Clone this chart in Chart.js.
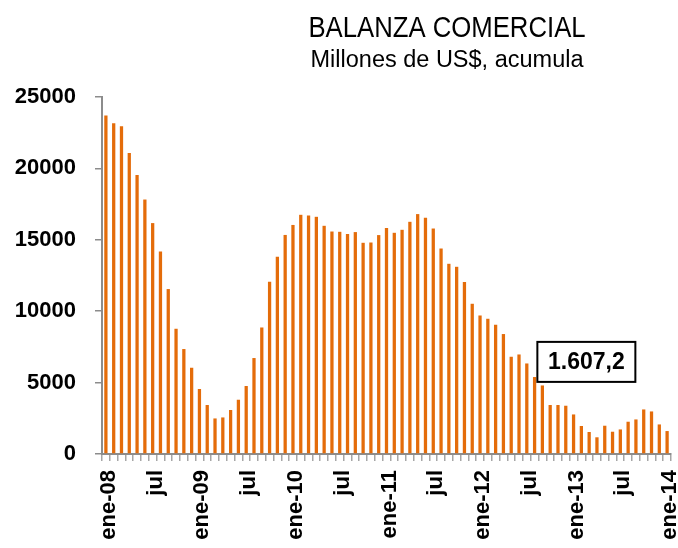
<!DOCTYPE html>
<html>
<head>
<meta charset="UTF-8" />
<title>Balanza comercial</title>
<style>
    body { margin: 0; background: #fff; }
    canvas#chartId { display: block; }
</style>
</head>
<body>
<canvas id="chartId" width="678" height="548"></canvas>
<script src="https://cdn.jsdelivr.net/npm/chart.js@4.4.1/dist/chart.umd.min.js"></script>
<script>
    // months ene-08 .. ene-14
    var monthNames = ['ene', 'feb', 'mar', 'abr', 'may', 'jun', 'jul', 'ago', 'sep', 'oct', 'nov', 'dic'];
    var years = ['08', '09', '10', '11', '12', '13', '14'];
    var categories = [];
    years.forEach(function (y) {
        monthNames.forEach(function (m) {
            if (y == '14' && m != 'ene') return;
            categories.push(m + '-' + y);
        });
    });

    // Millones de US$, acumulado 12 meses
    var balanza = [
        23700, 23170, 22960, 21070, 19530, 17820, 16170, 14180, 11550, 8770, 7350, 6040,
        4550, 3430, 2490, 2560, 3080, 3800, 4760, 6720, 8860, 12060, 13810, 15340,
        16040, 16750, 16700, 16610, 15980, 15580, 15560, 15400, 15540, 14790, 14810, 15330,
        15820, 15490, 15700, 16260, 16800, 16540, 15790, 14390, 13320, 13110, 12040, 10520,
        9700, 9470, 9050, 8400, 6810, 6970, 6340, 5390, 4800, 3430, 3430, 3380,
        2770, 1960, 1540, 1170, 1980, 1560, 1720, 2260, 2420, 3120, 2980, 2070,
        1607.2
    ];

    var yTicks = [0, 5000, 10000, 15000, 20000, 25000];

    var lastLabel = '1.607,2';

    var orange = '#E46C0A';
    var axisGray = '#8c8c8c';

    var titlePlugin = {
        id: 'titles',
        afterDraw: function (chart) {
            var ctx = chart.ctx;
            ctx.save();
            ctx.fillStyle = '#000';
            ctx.textAlign = 'center';
            ctx.textBaseline = 'alphabetic';
            // title is set in a condensed face, squeeze it horizontally
            ctx.save();
            ctx.translate(447, 37);
            ctx.scale(0.857, 1);
            ctx.font = '30px "Liberation Sans", Arial';
            ctx.fillText('BALANZA COMERCIAL', 0, 0);
            ctx.restore();
            ctx.font = '23.5px "Liberation Sans", Arial';
            ctx.fillText('Millones de US$, acumula', 447, 67);

            // value box for the last month
            var xs = chart.scales.x, ys = chart.scales.y;
            var cx = xs.getPixelForValue(61) + 5;
            var cy = ys.getPixelForValue(6450);
            var w = 98, h = 40;
            ctx.fillStyle = '#fff';
            ctx.fillRect(cx - w / 2, cy - h / 2, w, h);
            ctx.strokeStyle = '#000';
            ctx.lineWidth = 2;
            ctx.strokeRect(cx - w / 2, cy - h / 2, w, h);
            ctx.fillStyle = '#000';
            ctx.font = 'bold 23px "Liberation Sans", Arial';
            ctx.textBaseline = 'middle';
            ctx.fillText(lastLabel, cx, cy + 1);
            ctx.restore();
        }
    };

    var chrt = document.getElementById('chartId').getContext('2d');
    var chartId = new Chart(chrt, {
        type: 'bar',
        data: {
            labels: categories,
            datasets: [{
                label: 'Balanza comercial',
                data: balanza,
                backgroundColor: orange,
                borderWidth: 0,
                barPercentage: 0.42,
                categoryPercentage: 1.0
            }]
        },
        options: {
            responsive: false,
            animation: false,
            layout: { padding: { top: 97, right: 7, left: 0, bottom: 0 } },
            plugins: {
                legend: { display: false },
                tooltip: { enabled: false }
            },
            scales: {
                x: {
                    grid: {
                        display: true,
                        drawOnChartArea: false,
                        drawTicks: true,
                        tickLength: 7,
                        color: '#a6a6a6',
                        lineWidth: 1.5
                    },
                    border: { display: true, color: axisGray, width: 2 },
                    ticks: {
                        autoSkip: false,
                        maxRotation: 90,
                        minRotation: 90,
                        padding: 9,
                        labelOffset: 3,
                        color: '#000',
                        font: { family: '"Liberation Sans", Arial', size: 22, weight: 'bold' },
                        callback: function (val, i) {
                            var c = categories[i];
                            if (c.indexOf('ene') == 0) return c;
                            if (c.indexOf('jul') == 0) return 'jul';
                            return '';
                        }
                    },
                    afterFit: function (s) {
                        s.height = 94;
                        s.paddingLeft = 0;
                        s.paddingRight = 0;
                    }
                },
                y: {
                    min: 0,
                    max: 25000,
                    afterBuildTicks: function (s) {
                        s.ticks = yTicks.map(function (v) { return { value: v }; });
                    },
                    grid: {
                        display: true,
                        drawOnChartArea: false,
                        drawTicks: true,
                        tickLength: 7,
                        color: axisGray,
                        lineWidth: 1.5
                    },
                    border: { display: true, color: axisGray, width: 2 },
                    ticks: {
                        padding: 19,
                        color: '#000',
                        font: { family: '"Liberation Sans", Arial', size: 22, weight: 'bold' },
                        callback: function (v) { return String(v); }
                    },
                    afterFit: function (s) {
                        s.width = 102;
                    }
                }
            }
        },
        plugins: [titlePlugin]
    });
</script>
</body>
</html>
